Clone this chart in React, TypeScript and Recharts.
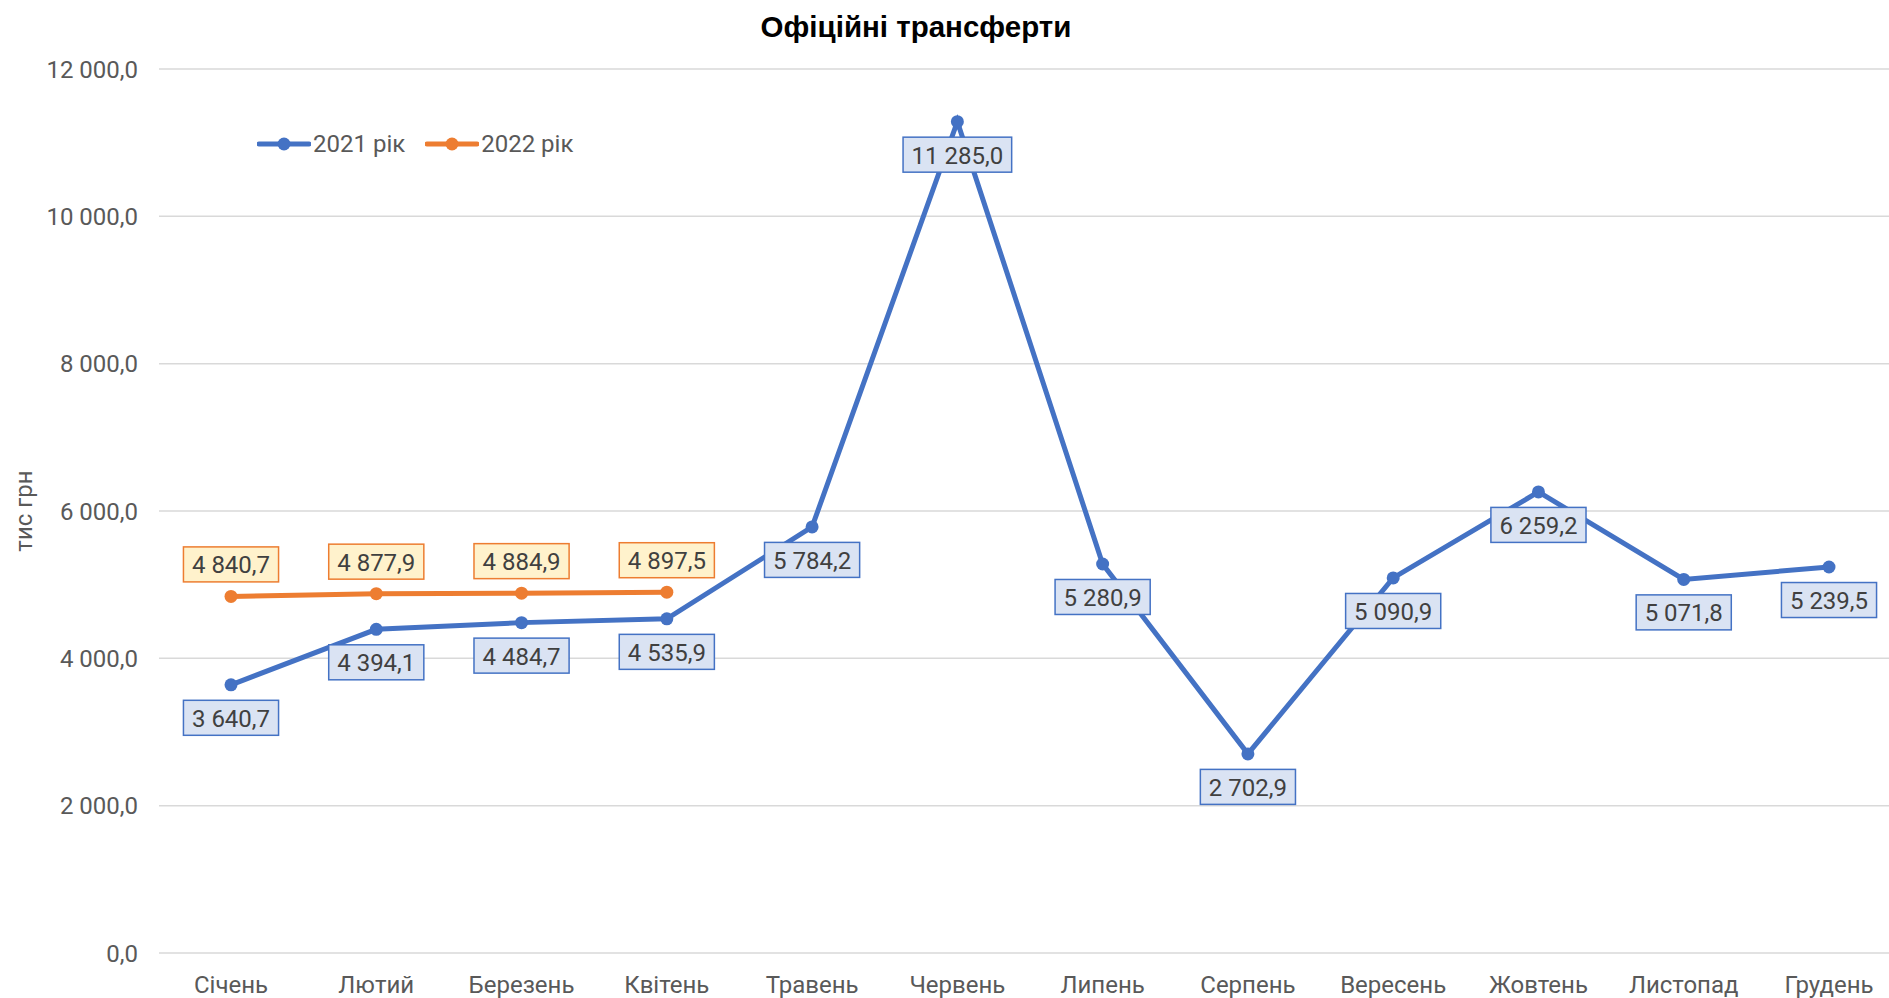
import { LineChart, Line, XAxis, YAxis, CartesianGrid, LabelList } from "recharts"

const months = [
  "Січень",
  "Лютий",
  "Березень",
  "Квітень",
  "Травень",
  "Червень",
  "Липень",
  "Серпень",
  "Вересень",
  "Жовтень",
  "Листопад",
  "Грудень",
]
const values2021 = [3640.7, 4394.1, 4484.7, 4535.9, 5784.2, 11285.0, 5280.9, 2702.9, 5090.9, 6259.2, 5071.8, 5239.5]
const values2022 = [4840.7, 4877.9, 4884.9, 4897.5]
const yTicks = [0, 2000, 4000, 6000, 8000, 10000, 12000]

const BLUE = "#4472C4"
const ORANGE = "#ED7D31"
const FONT = "Roboto, 'Liberation Sans', sans-serif"
const FS = 24

const fmt = (v: number) => {
  const [i, d] = v.toFixed(1).split(".")
  return i.replace(/\B(?=(\d{3})+(?!\d))/g, " ") + "," + d
}

let ctx: CanvasRenderingContext2D | null = null
const measure = (s: string) => {
  if (!ctx) ctx = document.createElement("canvas").getContext("2d")
  if (!ctx) return s.length * FS * 0.55
  ctx.font = `${FS}px Roboto`
  return ctx.measureText(s).width
}

const data = months.map((m, i) => ({
  name: m,
  y2021: values2021[i],
  y2022: i < values2022.length ? values2022[i] : null,
}))

function BoxLabel(props: any) {
  const { x, y, value, fill, stroke, dy } = props
  if (value == null) return null
  const text = fmt(value)
  const w = measure(text) + 17
  const h = 35
  const cy = y + dy
  return (
    <g>
      <rect x={x - w / 2} y={cy - h / 2} width={w} height={h} fill={fill} stroke={stroke} strokeWidth={1.5} />
      <text x={x} y={cy + 1} textAnchor="middle" dominantBaseline="central" fontSize={FS} fontFamily={FONT} fill="#404040">
        {text}
      </text>
    </g>
  )
}

function LegendItem({ color, label }: { color: string; label: string }) {
  return (
    <div style={{ display: "flex", alignItems: "center", marginRight: 20 }}>
      <svg width={54} height={14}>
        <line x1={2} y1={7} x2={52} y2={7} stroke={color} strokeWidth={5} strokeLinecap="round" />
        <circle cx={27} cy={7} r={6.5} fill={color} />
      </svg>
      <span style={{ marginLeft: 2 }}>{label}</span>
    </div>
  )
}

export default function App() {
  return (
    <div style={{ position: "relative", width: 1889, height: 998, overflow: "hidden", background: "#fff", fontFamily: FONT }}>
      <style>{`body{margin:0}`}</style>
      <div
        style={{
          position: "absolute",
          top: 10,
          left: 916,
          transform: "translateX(-50%)",
          fontSize: 29.5,
          fontWeight: 700,
          fontFamily: "'Liberation Sans', Arial, sans-serif",
          color: "#000",
          whiteSpace: "nowrap",
        }}
      >
        Офіційні трансферти
      </div>
      <div
        style={{
          position: "absolute",
          top: 130,
          left: 257,
          display: "flex",
          fontSize: FS,
          color: "#595959",
          zIndex: 2,
        }}
      >
        <LegendItem color={BLUE} label="2021 рік" />
        <LegendItem color={ORANGE} label="2022 рік" />
      </div>
      <LineChart width={1901} height={998} data={data} margin={{ top: 69, right: 0, bottom: 0, left: 0 }}>
        <CartesianGrid vertical={false} stroke="#d9d9d9" strokeWidth={1.5} />
        <XAxis
          dataKey="name"
          height={45}
          padding={{ left: 72, right: 72 }}
          axisLine={false}
          tickLine={false}
          tickSize={0}
          tickMargin={23}
          interval={0}
          tick={{ fontSize: FS, fill: "#595959", fontFamily: FONT }}
        />
        <YAxis
          width={159}
          domain={[0, 12000]}
          ticks={yTicks}
          axisLine={false}
          tickLine={false}
          tickSize={0}
          tickMargin={21}
          tickFormatter={fmt}
          tick={{ fontSize: FS, fill: "#595959", fontFamily: FONT }}
          label={{
            content: () => (
              <text
                x={24}
                y={511}
                transform="rotate(-90, 24, 511)"
                textAnchor="middle"
                dominantBaseline="central"
                fontSize={FS}
                fontFamily={FONT}
                fill="#595959"
              >
                тис грн
              </text>
            ),
          }}
        />
        <Line
          dataKey="y2021"
          stroke={BLUE}
          strokeWidth={5}
          dot={{ r: 6.5, fill: BLUE, stroke: BLUE, strokeWidth: 0 }}
          activeDot={false}
          isAnimationActive={false}
        >
          <LabelList dataKey="y2021" content={(p: any) => <BoxLabel {...p} fill="#DAE3F3" stroke={BLUE} dy={33} />} />
        </Line>
        <Line
          dataKey="y2022"
          stroke={ORANGE}
          strokeWidth={5}
          dot={{ r: 6.5, fill: ORANGE, stroke: ORANGE, strokeWidth: 0 }}
          activeDot={false}
          connectNulls={false}
          isAnimationActive={false}
        >
          <LabelList dataKey="y2022" content={(p: any) => <BoxLabel {...p} fill="#FFF2CC" stroke={ORANGE} dy={-32} />} />
        </Line>
      </LineChart>
    </div>
  )
}
